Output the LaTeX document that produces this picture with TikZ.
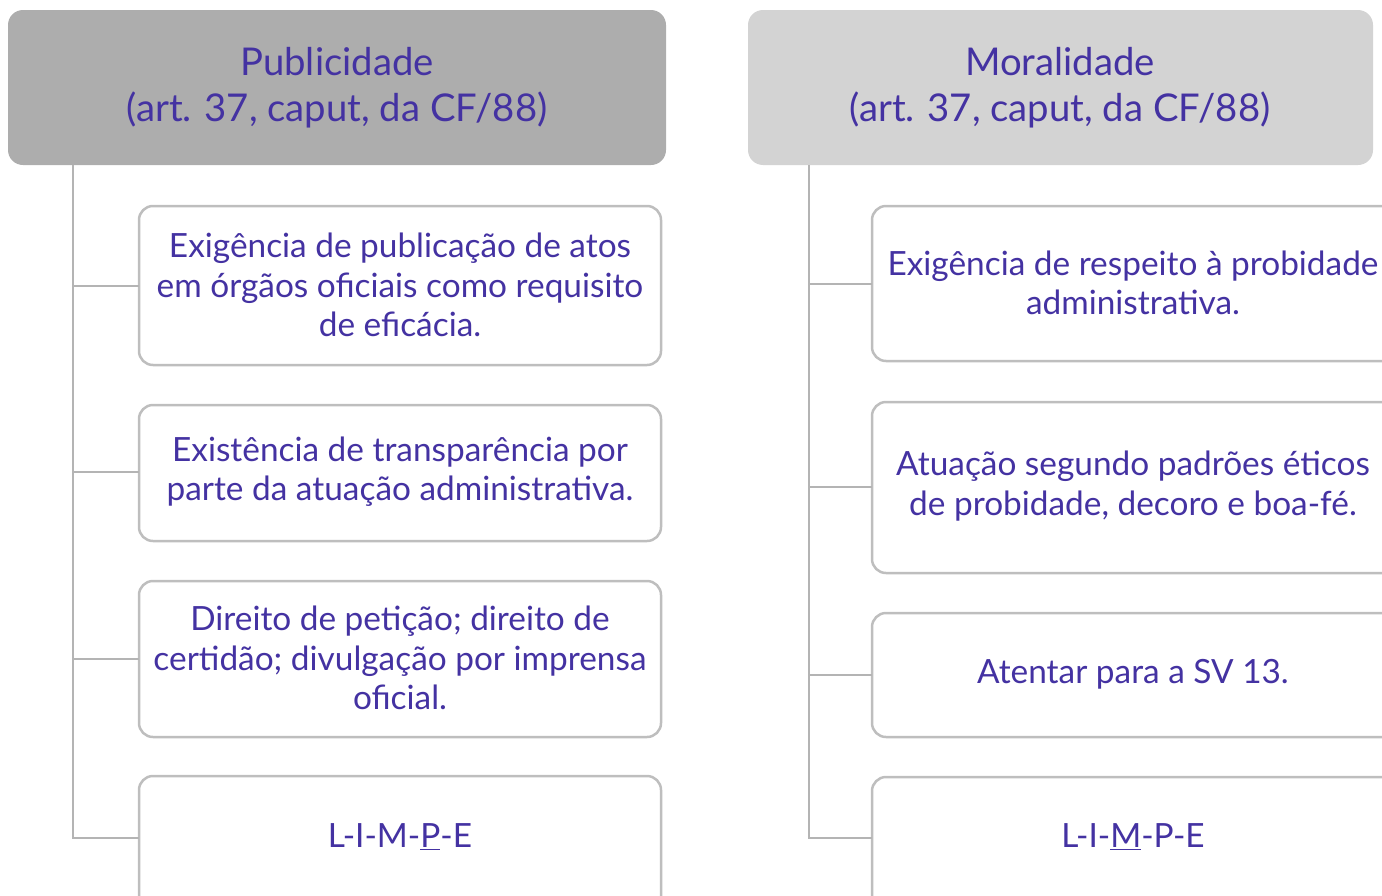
\documentclass[tikz,border=0pt]{standalone}
\usepackage{fontspec}
\setmainfont{Lato}
\definecolor{txt}{RGB}{68,50,162}
\definecolor{hdrA}{RGB}{173,173,173}
\definecolor{hdrB}{RGB}{211,211,211}
\definecolor{edge}{RGB}{190,190,190}
\definecolor{trunk}{RGB}{180,180,180}
\begin{document}
\begin{tikzpicture}[x=1bp,y=-1bp,
  hdr/.style={rounded corners=15bp, text=txt, align=center, inner sep=0pt,
    font=\fontsize{38.4}{46}\selectfont},
  item/.style={draw=edge, line width=2.5bp, rounded corners=14bp, fill=white,
    text=txt, align=center, inner sep=0pt, font=\fontsize{33.5}{39.5}\selectfont},
  link/.style={draw=trunk, line width=2.5bp}]
\useasboundingbox (0,0) rectangle (1382,895);
\clip (0,0) rectangle (1382,895);
% headers
\fill[hdrA, rounded corners=15bp] (8,10) rectangle (666,165);
\node[hdr] (h1) at (337,88) {Publicidade\\(art. 37, caput, da CF/88)};
\fill[hdrB, rounded corners=15bp] (748,10) rectangle (1373,165);
\node[hdr] (h2) at (1060,88) {Moralidade\\(art. 37, caput, da CF/88)};
% left column boxes
\draw[item] (139,206) rectangle (661,365);
\node[item, draw=none, fill=none] (l1) at (400,285) {Exigência de publicação de atos\\em órgãos oficiais como requisito\\de eficácia.};
\draw[item] (139,405) rectangle (661,541);
\node[item, draw=none, fill=none] (l2) at (400,472) {Existência de transparência por\\parte da atuação administrativa.};
\draw[item] (139,581) rectangle (661,737);
\node[item, draw=none, fill=none] (l3) at (400,658) {Direito de petição; direito de\\certidão; divulgação por imprensa\\oficial.};
\draw[item] (139,776) rectangle (661,920);
\node[item, draw=none, fill=none] (l4) at (400,837) {L-I-M-\underline{P}-E};
% right column boxes
\draw[item] (872,206) rectangle (1400,361);
\node[item, draw=none, fill=none] (r1) at (1133,283) {Exigência de respeito à probidade\\administrativa.};
\draw[item] (872,402) rectangle (1400,573);
\node[item, draw=none, fill=none] (r2) at (1133,486) {Atuação segundo padrões éticos\\de probidade, decoro e boa-fé.};
\draw[item] (872,613) rectangle (1400,737);
\node[item, draw=none, fill=none] (r3) at (1133,674) {Atentar para a SV 13.};
\draw[item] (872,777) rectangle (1400,920);
\node[item, draw=none, fill=none] (r4) at (1133,837) {L-I-\underline{M}-P-E};
% connectors
\coordinate (lt) at (73,165);
\coordinate (lb) at (73,838);
\draw[link] (lt) -- (lb) -- (139,838);
\draw[link] (73,286) -- (139,286);
\draw[link] (73,472) -- (139,472);
\draw[link] (73,659) -- (139,659);
\coordinate (rt) at (809,165);
\coordinate (rb) at (809,838);
\draw[link] (rt) -- (rb) -- (872,838);
\draw[link] (809,284) -- (872,284);
\draw[link] (809,487) -- (872,487);
\draw[link] (809,675) -- (872,675);
\end{tikzpicture}
\end{document}
